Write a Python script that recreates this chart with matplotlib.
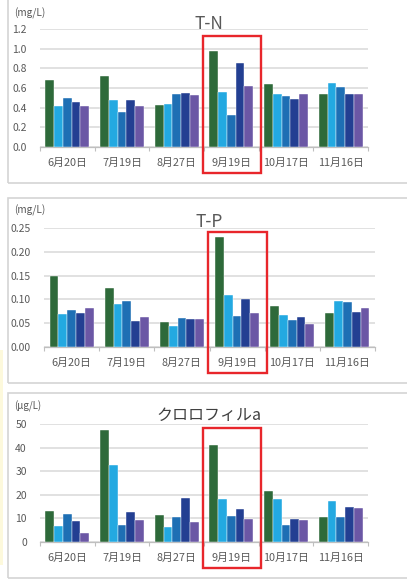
import matplotlib.pyplot as plt
from matplotlib.patches import Rectangle
import matplotlib.transforms as mtransforms
import numpy as np

plt.rcParams['font.family'] = ['Noto Sans CJK JP', 'DejaVu Sans']

W, H = 407, 579

dates = ["6月20日", "7月19日", "8月27日", "9月19日", "10月17日", "11月16日"]
colors = ["#2e6a3a", "#23a9e1", "#1e6fb4", "#233f92", "#6b57a5"]

# 各系列 (地点) の値、日付順
tn = [
    [0.68, 0.72, 0.43, 0.98, 0.64, 0.54],
    [0.42, 0.48, 0.44, 0.56, 0.54, 0.65],
    [0.50, 0.36, 0.54, 0.33, 0.52, 0.61],
    [0.46, 0.48, 0.55, 0.85, 0.49, 0.54],
    [0.42, 0.42, 0.53, 0.62, 0.54, 0.54],
]
tp = [
    [0.150, 0.125, 0.052, 0.232, 0.085, 0.071],
    [0.070, 0.091, 0.044, 0.110, 0.066, 0.097],
    [0.077, 0.097, 0.060, 0.065, 0.056, 0.095],
    [0.072, 0.055, 0.058, 0.101, 0.062, 0.074],
    [0.081, 0.062, 0.058, 0.072, 0.047, 0.082],
]
chla = [
    [13.2, 47.6, 11.5, 41.2, 21.7, 10.3],
    [6.8, 32.7, 6.4, 18.1, 18.0, 17.4],
    [11.9, 7.1, 10.5, 11.0, 6.9, 10.3],
    [8.6, 12.5, 18.4, 14.0, 9.6, 14.7],
    [3.5, 9.1, 8.2, 9.6, 9.3, 14.4],
]

tn_ticks = [0.0, 0.2, 0.4, 0.6, 0.8, 1.0, 1.2]
tp_ticks = [0.00, 0.05, 0.10, 0.15, 0.20, 0.25]
chla_ticks = [0, 10, 20, 30, 40, 50]

text_col = "#595959"


def fx(x):
    return x / W


def fy(y):
    return 1 - y / H


def draw_panel(fig, rect, data, ticks, fmt, box_top):
    ax = fig.add_axes(rect)
    x = np.arange(len(dates))
    bw = 0.16
    for i, vals in enumerate(data):
        ax.bar(x + (i - 2) * bw, vals, bw, color=colors[i], zorder=3,
               edgecolor="white", linewidth=0.3)
    ax.set_xlim(-0.5, len(dates) - 0.5)
    ax.set_ylim(ticks[0], ticks[-1])
    ax.set_yticks(ticks)
    ax.set_yticklabels([fmt.format(t) for t in ticks])
    ax.yaxis.grid(True, color="#d9d9d9", linewidth=1.1, zorder=0)
    ax.set_xticks(x)
    ax.set_xticklabels(dates)
    ax.set_xticks(np.arange(-0.5, len(dates)), minor=True)
    ax.tick_params(axis="x", which="major", length=0, pad=8, labelsize=7.8, colors=text_col)
    ax.tick_params(axis="x", which="minor", length=3, color="#bfbfbf", width=0.8)
    ax.tick_params(axis="y", length=0, pad=9.5, labelsize=7.5, colors=text_col)
    for s in ["top", "right", "left"]:
        ax.spines[s].set_visible(False)
    ax.spines["bottom"].set_color("#bfbfbf")
    ax.spines["bottom"].set_linewidth(0.9)
    ax.set_facecolor("none")

    # 9月19日の赤枠
    trans = mtransforms.blended_transform_factory(ax.transData, ax.transAxes)
    ax.add_patch(Rectangle((2.48, -0.222), 1.06, box_top + 0.222, transform=trans,
                           fill=False, edgecolor="#e8262b", linewidth=1.7,
                           clip_on=False, zorder=5))
    return ax


fig = plt.figure(figsize=(W / 100, H / 100), dpi=100)

# パネル枠
for top, bottom in [(-3, 183), (198, 383), (393, 578)]:
    fig.patches.append(Rectangle((fx(8), fy(bottom)), fx(W + 10 - 8), (bottom - top) / H,
                                 transform=fig.transFigure, fill=False,
                                 edgecolor="#d4d4d4", linewidth=1.2))
fig.patches.append(Rectangle((0, fy(565)), fx(3), (565 - 350) / H, transform=fig.transFigure,
                             facecolor="#fdf9dc", edgecolor="none"))

draw_panel(fig, [fx(40), fy(147), fx(328), 118 / H], tn, tn_ticks, "{:.1f}", 0.94)
fig.text(fx(14), fy(13), "(mg/L)", fontsize=7.3, color=text_col, va="center")
fig.text(fx(209), fy(24), "T-N", fontsize=12.5, color=text_col, ha="center", va="center")

draw_panel(fig, [fx(44), fy(346.7), fx(331), 118.4 / H], tp, tp_ticks, "{:.2f}", 0.97)
fig.text(fx(14), fy(210), "(mg/L)", fontsize=7.3, color=text_col, va="center")
fig.text(fx(209), fy(222), "T-P", fontsize=12.5, color=text_col, ha="center", va="center")

draw_panel(fig, [fx(40), fy(541.7), fx(328), 117.7 / H], chla, chla_ticks, "{:d}", 0.966)
fig.text(fx(14), fy(406), "(μg/L)", fontsize=7, color=text_col, va="center")
fig.text(fx(209), fy(415), "クロロフィルa", fontsize=11.5, color="#404040",
         ha="center", va="center")

fig.savefig("out.png", dpi=100)
